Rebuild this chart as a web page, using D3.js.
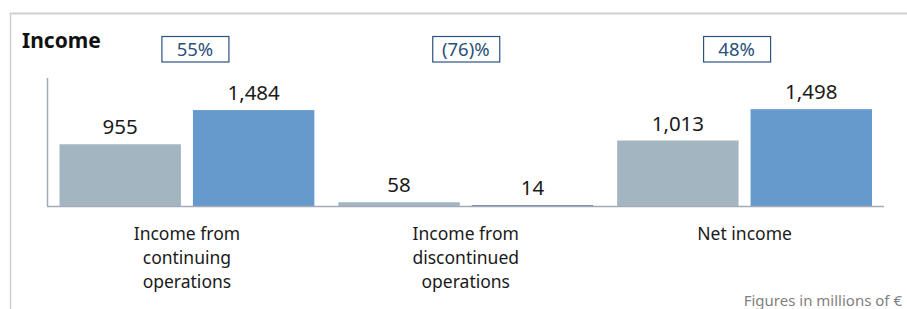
<!DOCTYPE html>
<html>
<head>
<meta charset="utf-8">
<script src="https://cdn.jsdelivr.net/npm/d3@7"></script>
<style>
  body { margin: 0; background: #fff; }
  svg text { font-family: "Noto Sans", "Open Sans", sans-serif; }
</style>
</head>
<body>
<svg id="chart" width="907" height="309"></svg>
<script>
const categories = ["Income from continuing operations", "Income from discontinued operations", "Net income"];
const label_lines = [["Income from", "continuing", "operations"], ["Income from", "discontinued", "operations"], ["Net income"]];
const prior_year = [955, 58, 1013];
const current_year = [1484, 14, 1498];
const change_labels = ["55%", "(76)%", "48%"];
const value_labels = [["955", "1,484"], ["58", "14"], ["1,013", "1,498"]];

const colors = ["#a2b5c0", "#6699cc"];

const $svg = d3.select("#chart");

// frame lines
$svg.append("line")
	.attr("x1", 10).attr("x2", 907).attr("y1", 13.5).attr("y2", 13.5)
	.attr("stroke", "#d0d0d0").attr("stroke-width", 2);
$svg.append("line")
	.attr("x1", 10.5).attr("x2", 10.5).attr("y1", 13).attr("y2", 309)
	.attr("stroke", "#d0d0d0").attr("stroke-width", 1.5);

$svg.append("text")
	.attr("x", 22).attr("y", 48)
	.attr("font-size", 21).attr("font-weight", "bold")
	.attr("fill", "#111")
	.text("Income");

const x = d3.scaleBand()
	.domain(categories)
	.range([47.5, 884])
	.padding(0);

const inner = d3.scaleBand()
	.domain([0, 1])
	.range([12, x.bandwidth() - 12])
	.paddingInner(0.09);

// the change boxes sit evenly over the span of the bars
const xbox = d3.scaleBand()
	.domain(categories)
	.range([x(categories[0]) + inner(0), x(categories[2]) + inner(1) + inner.bandwidth()]);

const y = d3.scaleLinear()
	.domain([0, 1980])
	.range([206, 78]);

const data = categories.map(function(c, i) {
	return { cat: c, vals: [prior_year[i], current_year[i]], labels: value_labels[i], change: change_labels[i], lines: label_lines[i] };
});

const $groups = $svg.selectAll("g.group")
	.data(data)
	.enter()
	.append("g")
	.attr("class", "group")
	.attr("transform", function(d) { return "translate(" + x(d.cat) + ",0)"; });

$groups.selectAll("rect")
	.data(function(d) { return d.vals; })
	.enter()
	.append("rect")
	.attr("x", function(d, i) { return inner(i); })
	.attr("width", inner.bandwidth())
	.attr("y", function(d) { return y(d); })
	.attr("height", function(d) { return Math.max(1, y(0) - y(d)); })
	.attr("fill", function(d, i) { return (d < 20 && i == 1) ? "#5a7fa8" : colors[i]; });

$groups.selectAll("text.val")
	.data(function(d) { return d.vals.map(function(v, i) { return { v: v, t: d.labels[i] }; }); })
	.enter()
	.append("text")
	.attr("class", "val")
	.attr("x", function(d, i) { return inner(i) + inner.bandwidth() / 2; })
	.attr("y", function(d) { return y(d.v) - 10; })
	.attr("text-anchor", "middle")
	.attr("font-size", 20.5)
	.attr("fill", "#1a1a1a")
	.text(function(d) { return d.t; });

// change boxes
const $box = $svg.selectAll("g.box")
	.data(data)
	.enter()
	.append("g")
	.attr("class", "box")
	.attr("transform", function(d) { return "translate(" + (xbox(d.cat) + xbox.bandwidth() / 2) + ",0)"; });
$box.append("rect")
	.attr("x", -33).attr("width", 67)
	.attr("y", 36.5).attr("height", 25.5)
	.attr("fill", "none")
	.attr("stroke", "#2b5280").attr("stroke-width", 1.2);
$box.append("text")
	.attr("y", 56)
	.attr("text-anchor", "middle")
	.attr("font-size", 18.5)
	.attr("fill", "#2b4f7a")
	.text(function(d) { return d.change; });

// category labels
$groups.append("text")
	.attr("text-anchor", "middle")
	.attr("font-size", 17.5)
	.attr("fill", "#1a1a1a")
	.selectAll("tspan")
	.data(function(d) { return d.lines; })
	.enter()
	.append("tspan")
	.attr("x", x.bandwidth() / 2)
	.attr("y", function(d, i) { return 240 + i * 24; })
	.text(function(d) { return d; });

// axis lines
$svg.append("line")
	.attr("x1", 47.5).attr("x2", 47.5).attr("y1", 78).attr("y2", 206)
	.attr("stroke", "#a3abb8").attr("stroke-width", 1.5);
$svg.append("line")
	.attr("x1", 47).attr("x2", 884).attr("y1", y(0) + 0.5).attr("y2", y(0) + 0.5)
	.attr("stroke", "#a3abb8").attr("stroke-width", 1.5);

$svg.append("text")
	.attr("x", 902).attr("y", 306)
	.attr("text-anchor", "end")
	.attr("font-size", 15)
	.attr("fill", "#7f7f7f")
	.text("Figures in millions of €");
</script>
</body>
</html>
